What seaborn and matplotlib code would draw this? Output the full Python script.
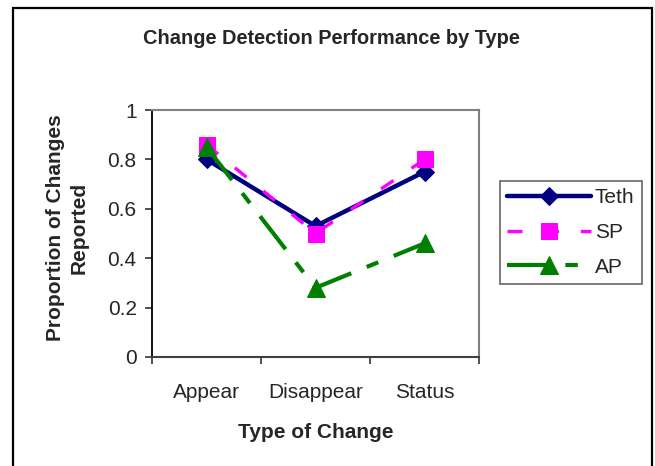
import matplotlib
matplotlib.use("Agg")
import matplotlib.pyplot as plt
import seaborn as sns
import pandas as pd
from matplotlib.patches import Rectangle
from matplotlib.ticker import FixedLocator

categories = ["Appear", "Disappear", "Status"]
series_names = ["Teth", "SP", "AP"]
teth = [0.80, 0.53, 0.75]
sp = [0.86, 0.50, 0.80]
ap = [0.85, 0.28, 0.46]
y_ticks = [0, 0.2, 0.4, 0.6, 0.8, 1]
y_tick_labels = ["0", "0.2", "0.4", "0.6", "0.8", "1"]

values = {"Teth": teth, "SP": sp, "AP": ap}
rows = []
for s in series_names:
    for i, c in enumerate(categories):
        rows.append({"series": s, "pos": i, "category": c, "value": values[s][i]})
df = pd.DataFrame(rows)

sns.set_style("white")
plt.rcParams["font.family"] = ["Liberation Sans", "DejaVu Sans"]

W, H = 655, 466
fig = plt.figure(figsize=(W / 100, H / 100), dpi=100)
ax = fig.add_axes([152 / W, 1 - 357 / H, (479 - 152) / W, (357 - 110) / H])

styles = {
    "Teth": dict(color="#000080", marker="D", ms=9, lw=3.2, dashes=None),
    "SP": dict(color="#FF00FF", marker="s", ms=12, lw=2.4, dashes=(4.5, 6.5)),
    "AP": dict(color="#008000", marker="^", ms=13, lw=3.0, dashes=(10, 4, 3, 4)),
}

for s in series_names:
    st = styles[s]
    sub = df[df["series"] == s]
    sns.lineplot(data=sub, x="pos", y="value", ax=ax, color=st["color"],
                 marker=st["marker"], markersize=st["ms"], linewidth=st["lw"],
                 markeredgecolor=st["color"], label=s, legend=False)
    line = ax.lines[-1]
    if st["dashes"] is not None:
        line.set_dashes(st["dashes"])
    line.set_solid_capstyle("round")

ax.set_xlim(-0.5, 2.5)
ax.set_ylim(0, 1)
ax.xaxis.set_major_locator(FixedLocator([-0.5, 0.5, 1.5, 2.5]))
ax.set_xticklabels([])
ax.set_xticks([0, 1, 2], minor=True)
ax.set_xticklabels(categories, minor=True, fontsize=15)
ax.tick_params(axis="x", which="minor", length=0, pad=19)
ax.tick_params(axis="x", which="major", length=5, width=1.2, color="#333333", direction="out", bottom=True)
ax.set_yticks(y_ticks)
ax.set_yticklabels(y_tick_labels, fontsize=15)
ax.tick_params(axis="y", length=5, width=1.2, color="#333333", direction="out", pad=6, left=True)
ax.set_xlabel("")
ax.set_ylabel("")
ax.grid(False)

for side in ["top", "right"]:
    ax.spines[side].set_color("#808080")
    ax.spines[side].set_linewidth(1.5)
ax.spines["left"].set_color("#000000")
ax.spines["left"].set_linewidth(1.3)
ax.spines["bottom"].set_color("#404040")
ax.spines["bottom"].set_linewidth(1.5)

fig.text(331 / W, 1 - 38 / H, "Change Detection Performance by Type",
         ha="center", va="center", fontsize=14.4, fontweight="bold")
fig.text(316 / W, 1 - 432 / H, "Type of Change",
         ha="center", va="center", fontsize=15, fontweight="bold")
fig.text(67 / W, 1 - 228 / H, "Proportion of Changes\nReported", rotation=90,
         ha="center", va="center", multialignment="center",
         fontsize=15, fontweight="bold", linespacing=1.3)

handles = ax.lines[:3]
leg = fig.legend(handles, series_names, loc="upper left",
                 bbox_to_anchor=(500 / W, 1 - 181 / H), bbox_transform=fig.transFigure,
                 fontsize=15, frameon=True, fancybox=False, numpoints=1,
                 handlelength=4.0, handletextpad=0.2, labelspacing=0.75,
                 borderpad=0.35, borderaxespad=0)
leg.get_frame().set_edgecolor("#404040")
leg.get_frame().set_linewidth(1.2)

fig.patches.append(Rectangle((13 / W, -0.05), (652 - 13) / W, 1 - 7.5 / H + 0.05,
                             transform=fig.transFigure, fill=False,
                             edgecolor="black", linewidth=1.6))

fig.savefig("out.png", dpi=100)
